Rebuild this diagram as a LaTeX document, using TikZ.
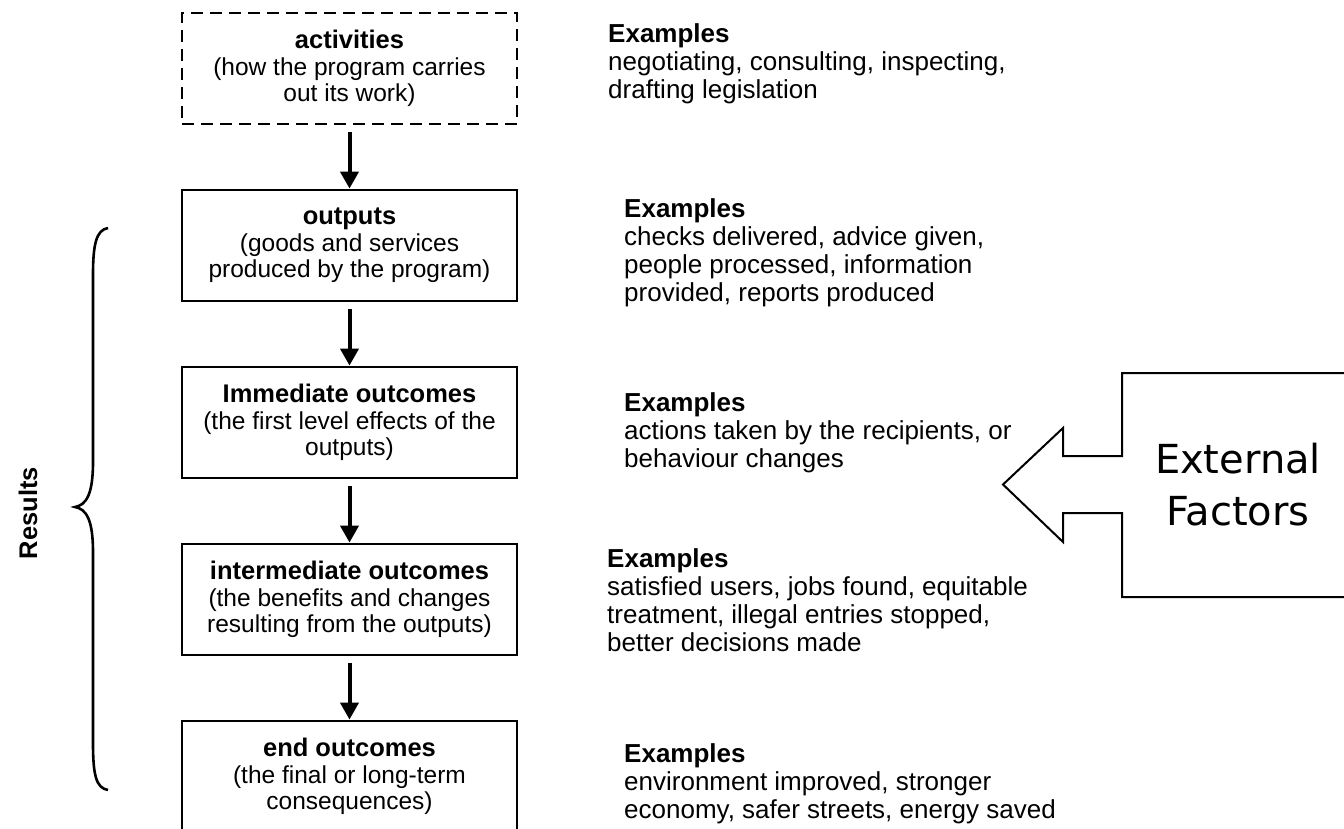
\documentclass[tikz,border=0pt]{standalone}
\usepackage{fontspec}
\setmainfont{Liberation Sans}
\newfontfamily\extfont{DejaVu Sans}
\usetikzlibrary{arrows.meta}
\begin{document}
\begin{tikzpicture}[x=1pt,y=-1pt,
  stage/.style={draw, line width=2.8pt, minimum width=335pt, minimum height=111pt,
    align=center, inner sep=0pt, font=\fontsize{24.5}{26.5}\selectfont},
  ttl/.style={font=\bfseries\fontsize{25.5}{26.5}\selectfont},
  flow/.style={line width=4pt, -{Triangle[width=18pt,length=17pt]}},
  ex/.style={anchor=north west, inner sep=0pt, align=left, font=\fontsize{26}{28}\selectfont}]
\useasboundingbox (0,0) rectangle (1344,829);
\fill[white] (0,0) rectangle (1344,829);

% stages
\node[stage, dashed, dash pattern=on 12pt off 7pt] (act) at (349.5,68.5)
  {{\bfseries\fontsize{25.5}{26.5}\selectfont activities}\\(how the program carries\\out its work)};
\node[stage] (out) at (349.5,245.5)
  {{\bfseries\fontsize{25.5}{26.5}\selectfont outputs}\\(goods and services\\produced by the program)};
\node[stage] (imm) at (349.5,422.5)
  {{\bfseries\fontsize{25.5}{26.5}\selectfont Immediate outcomes}\\(the first level effects of the\\outputs)};
\node[stage] (int) at (349.5,599.5)
  {{\bfseries\fontsize{25.5}{26.5}\selectfont intermediate outcomes}\\(the benefits and changes\\resulting from the outputs)};
\node[stage] (end) at (349.5,776.5)
  {{\bfseries\fontsize{25.5}{26.5}\selectfont end outcomes}\\(the final or long-term\\consequences)};

% connectors
\draw[flow] ([yshift=-7pt]act.south) -- (out.north);
\draw[flow] ([yshift=-7pt]out.south) -- (imm.north);
\draw[flow] ([yshift=-7pt]imm.south) -- (int.north);
\draw[flow] ([yshift=-7pt]int.south) -- (end.north);

% examples
\node[ex] (ex1) at (608,23) {\textbf{Examples}\\negotiating, consulting, inspecting,\\drafting legislation};
\node[ex] (ex2) at (624,198) {\textbf{Examples}\\checks delivered, advice given,\\people processed, information\\provided, reports produced};
\node[ex] (ex3) at (624,392) {\textbf{Examples}\\actions taken by the recipients, or\\behaviour changes};
\node[ex] (ex4) at (607,548) {\textbf{Examples}\\satisfied users, jobs found, equitable\\treatment, illegal entries stopped,\\better decisions made};
\node[ex] (ex5) at (624,743) {\textbf{Examples}\\environment improved, stronger\\economy, safer streets, energy saved};

% brace and label
\draw[line width=2.6pt] (108,228) .. controls (96,230) and (93,245) .. (93,275)
  -- (93,462) .. controls (93,495) and (86,505) .. (75,507)
  .. controls (86,509) and (93,519) .. (93,552)
  -- (93,743) .. controls (93,775) and (96,788) .. (108,790);
\node[rotate=90, ttl, inner sep=0pt] (res) at (28,513) {Results};

% external factors arrow
\draw[line width=2pt, line join=miter] (1350,373) -- (1122,373) -- (1122,456) -- (1063,456)
  -- (1063,428) -- (1003,484.5) -- (1063,542) -- (1063,513) -- (1122,513)
  -- (1122,597) -- (1350,597);
\node[font=\extfont\fontsize{40}{52}\selectfont, align=center, inner sep=0pt] (ext) at (1238,485) {External\\Factors};
\end{tikzpicture}
\end{document}
